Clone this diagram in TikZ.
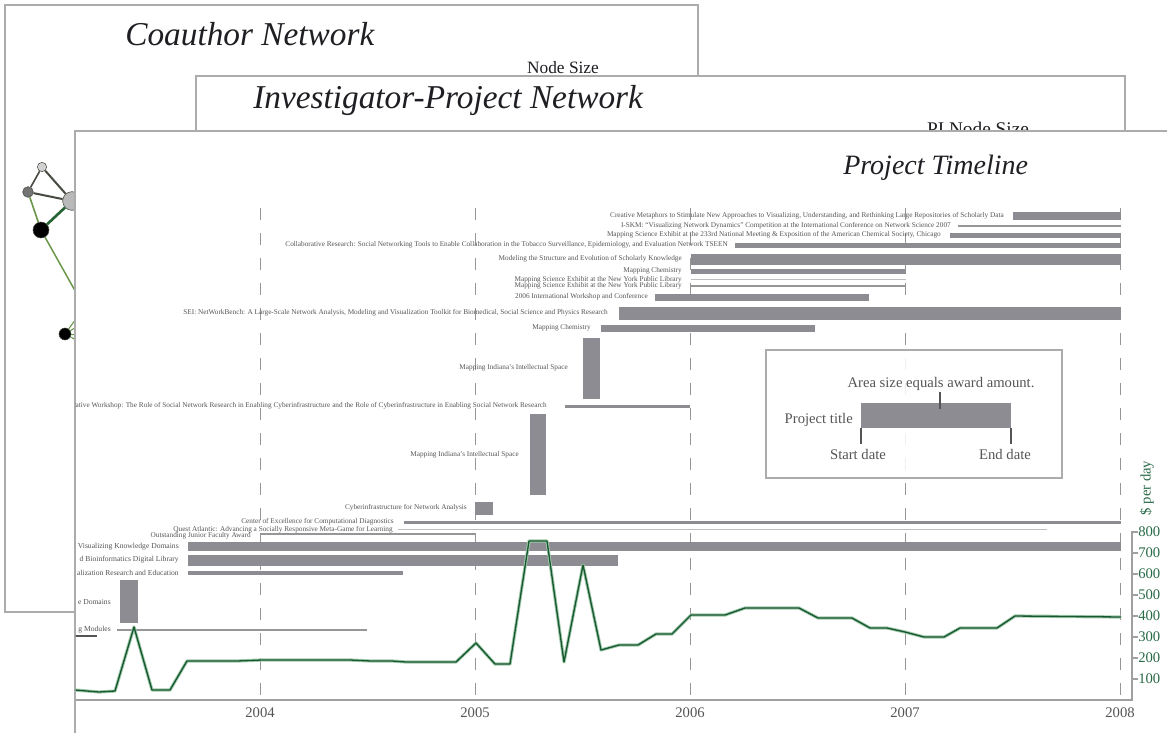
\documentclass[tikz,border=0pt]{standalone}
\usepackage{fontspec}
\setmainfont{Liberation Serif}
\usepackage{xcolor}
\usepackage{tikz}

\definecolor{framegray}{RGB}{172,172,172}
\definecolor{bargray}{RGB}{140,140,146}
\definecolor{linegray}{RGB}{150,150,150}
\definecolor{lightline}{RGB}{190,190,190}
\definecolor{gridgray}{RGB}{150,150,150}
\definecolor{axisgray}{RGB}{160,160,160}
\definecolor{textgray}{RGB}{85,85,85}
\definecolor{titleblack}{RGB}{30,30,35}
\definecolor{curvegreen}{RGB}{22,88,48}
\definecolor{halogreen}{RGB}{160,200,170}
\definecolor{axisgreen}{RGB}{40,105,70}
\definecolor{edgegreen}{RGB}{105,150,70}
\definecolor{edgedark}{RGB}{70,75,65}

\begin{document}
\begin{tikzpicture}[x=0.75pt, y=-0.75pt,
    panel/.style={draw=framegray, fill=white, line width=0.8pt},
    title/.style={anchor=base west, inner sep=0, text=titleblack, font=\itshape\fontsize{25}{30}\selectfont},
    keytext/.style={anchor=base, inner sep=0, text=titleblack},
    lbl/.style={anchor=east, inner sep=0, text=textgray, font=\fontsize{5.45}{6}\selectfont},
    projbar/.style={fill=bargray},
    thinbar/.style={draw=linegray, line width=0.9pt},
    gridline/.style={draw=gridgray, line width=0.7pt, dash pattern=on 9pt off 9.75pt},
    yearlbl/.style={anchor=base, inner sep=0, text=textgray, font=\fontsize{11}{13}\selectfont},
    vlbl/.style={anchor=west, inner sep=0, text=axisgreen, font=\fontsize{11}{13}\selectfont},
    legendtext/.style={inner sep=0, text=textgray, font=\fontsize{11}{13}\selectfont},
    author/.style={circle, inner sep=0, draw=edgedark, line width=0.4pt}]

    \useasboundingbox (0,0) rectangle (1167,732);
    \clip (0,0) rectangle (1167,732);

    % Coauthor Network
    \begin{scope}
        \draw[panel] (5,5) rectangle (698,612);
        \node[title] (coauthor) at (125,45) {Coauthor Network};
        \node[keytext, font=\fontsize{13}{15}\selectfont] (nodesize) at (563,73) {Node Size};

        \node[author, fill=gray!35, minimum size=7pt] (na) at (42,167) {};
        \node[author, fill=gray!110, minimum size=8pt] (nb) at (28,192) {};
        \node[author, fill=gray!55, minimum size=14pt] (nc) at (72,201) {};
        \node[author, fill=black, minimum size=12pt] (nd) at (41,230) {};
        \node[author, fill=black, minimum size=9pt] (ne) at (65,334) {};
        \coordinate (ea) at (78,296);
        \coordinate (eb) at (78,316);
        \coordinate (ec) at (78,326);
        \coordinate (ed) at (78,335);
        \coordinate (ee) at (78,341);

        \draw[edgedark, line width=1.2pt] (na) -- (nb);
        \draw[edgedark, line width=1.5pt] (na) -- (nc);
        \draw[edgedark, line width=1.5pt] (nb) -- (nc);
        \draw[edgegreen, line width=1.2pt] (nb) -- (nd);
        \draw[curvegreen!80!edgegreen, line width=2pt] (nd) -- (nc);
        \draw[edgegreen, line width=1.1pt] (nd) -- (ea);
        \draw[edgegreen, line width=0.8pt] (ne) -- (eb);
        \draw[edgegreen, line width=0.8pt] (ne) -- (ec);
        \draw[edgegreen, line width=0.8pt] (ne) -- (ed);
        \draw[edgegreen, line width=0.8pt] (ne) -- (ee);
    \end{scope}

    % Investigator-Project Network
    \begin{scope}
        \draw[panel] (196,76) rectangle (1125,200);
        \node[title] (invproject) at (253,108) {Investigator-Project Network};
        \node[keytext, font=\fontsize{14.5}{16}\selectfont] (pinodesize) at (978,135) {PI Node Size};
    \end{scope}

    % Project Timeline
    \draw[panel] (75,131) rectangle (1200,780);
    \node[title, font=\itshape\fontsize{21}{25}\selectfont] (timeline) at (843,174) {Project Timeline};

    \begin{scope}
        \clip (75.6,131.6) rectangle (1167,732);

        \draw[gridline] (260,208) -- (260,700);
        \draw[gridline] (475,208) -- (475,700);
        \draw[gridline] (690,208) -- (690,700);
        \draw[gridline] (905,208) -- (905,700);
        \draw[gridline] (1120,208) -- (1120,700);

        \fill[projbar] (1013,212) rectangle (1121,220);
        \node[lbl] (creative) at (1004,216) {Creative Metaphors to Stimulate New Approaches to Visualizing, Understanding, and Rethinking Large Repositories of Scholarly Data};
        \draw[thinbar] (958,226) -- (1121,226);
        \node[lbl] (iskm) at (951,226) {I-SKM: ``Visualizing Network Dynamics'' Competition at the International Conference on Network Science 2007};
        \fill[projbar] (950,232.5) rectangle (1121,237.5);
        \node[lbl] (acs) at (941,235) {Mapping Science Exhibit at the 233rd National Meeting \& Exposition of the American Chemical Society, Chicago};
        \fill[projbar] (735,243) rectangle (1121,247.5);
        \node[lbl] (tseen) at (728,245) {Collaborative Research: Social Networking Tools to Enable Collaboration in the Tobacco Surveillance, Epidemiology, and Evaluation Network TSEEN};
        \fill[projbar] (691,254) rectangle (1121,264.5);
        \node[lbl] (modeling) at (682,259) {Modeling the Structure and Evolution of Scholarly Knowledge};
        \fill[projbar] (691,269) rectangle (906,273.5);
        \node[lbl] (chemone) at (682,271) {Mapping Chemistry};
        \draw[thinbar, draw=lightline] (691,279.5) -- (906,279.5);
        \node[lbl] (nyplone) at (682,279.5) {Mapping Science Exhibit at the New York Public Library};
        \draw[thinbar] (691,286) -- (906,286);
        \node[lbl] (nypltwo) at (682,286) {Mapping Science Exhibit at the New York Public Library};
        \fill[projbar] (655,293.5) rectangle (869,300.5);
        \node[lbl] (workshop) at (648,297) {2006 International Workshop and Conference};
        \fill[projbar] (619,306.5) rectangle (1121,319.5);
        \node[lbl] (nwb) at (608,313) {SEI: NetWorkBench: A Large-Scale Network Analysis, Modeling and Visualization Toolkit for Biomedical, Social Science and Physics Research};
        \fill[projbar] (601,325) rectangle (815,331.5);
        \node[lbl] (chemtwo) at (591,328) {Mapping Chemistry};
        \fill[projbar] (583,338) rectangle (600,399);
        \node[lbl] (indianaone) at (568,368) {Mapping Indiana's Intellectual Space};
        \fill[projbar] (565,404.5) rectangle (690,407.5);
        \node[lbl] (cyberws) at (547,406) {orative Workshop: The Role of Social Network Research in Enabling Cyberinfrastructure and the Role of Cyberinfrastructure in Enabling Social Network Research};
        \fill[projbar] (530,414) rectangle (546,495);
        \node[lbl] (indianatwo) at (519,455) {Mapping Indiana's Intellectual Space};
        \fill[projbar] (475,502) rectangle (493,515);
        \node[lbl] (cyberna) at (467,508) {Cyberinfrastructure for Network Analysis};
        \fill[projbar] (404,520.5) rectangle (1121,523.5);
        \node[lbl] (diagnostics) at (394,522) {Center of Excellence for Computational Diagnostics};
        \draw[thinbar, draw=lightline] (398,529.5) -- (1047,529.5);
        \node[lbl] (quest) at (393,529.5) {Quest Atlantic: Advancing a Socially Responsive Meta-Game for Learning};
        \draw[thinbar] (260,534) -- (475,534);
        \node[lbl] (junior) at (251,535.5) {Outstanding Junior Faculty Award};
        \fill[projbar] (188,542) rectangle (1121,551);
        \node[lbl, font=\fontsize{5.7}{6}\selectfont] (domains) at (179,546.5) {Visualizing Knowledge Domains};
        \fill[projbar] (188,554.5) rectangle (618,565.5);
        \node[lbl, font=\fontsize{5.7}{6}\selectfont] (library) at (179,560) {d Bioinformatics Digital Library};
        \fill[projbar] (188,570.5) rectangle (403,574.5);
        \node[lbl, font=\fontsize{5.7}{6}\selectfont] (education) at (179,572.5) {alization Research and Education};
        \fill[projbar] (120,580) rectangle (138,623);
        \node[lbl, font=\fontsize{5.7}{6}\selectfont] (edomains) at (111,602) {e Domains};
        \draw[thinbar] (117,630) -- (367,630);
        \node[lbl, font=\fontsize{5.7}{6}\selectfont] (modules) at (111,630) {g Modules};
        \draw[textgray, line width=1.2pt] (75,636) -- (97,636);

        % legend
        \draw[framegray, fill=white, fill opacity=0.85, line width=0.8pt] (766,350) rectangle (1062,478);
        \fill[projbar] (861,403) rectangle (1011,428);
        \node[legendtext, anchor=base] (area) at (941,387) {Area size equals award amount.};
        \node[legendtext, anchor=base east] (ptitle) at (853,423) {Project title};
        \node[legendtext, anchor=base] (start) at (858,459) {Start date};
        \node[legendtext, anchor=base] (end) at (1005,459) {End date};
        \draw[textgray, line width=1pt] (940,392) -- (940,409);
        \draw[textgray, line width=1.2pt] (861,428) -- (861,444);
        \draw[textgray, line width=1.2pt] (1011,428) -- (1011,444);

        % axes
        \draw[axisgray, line width=2.2pt] (75,700) -- (1132,700) -- (1132,531);
        \draw[axisgray, line width=1.2pt] (1132,532) -- ++(6,0) (1132,553) -- ++(6,0)
            (1132,574) -- ++(6,0) (1132,595) -- ++(6,0) (1132,616) -- ++(6,0)
            (1132,637) -- ++(6,0) (1132,658) -- ++(6,0) (1132,679) -- ++(6,0);
        \node[vlbl] (v800) at (1138,532) {800};
        \node[vlbl] (v700) at (1138,553) {700};
        \node[vlbl] (v600) at (1138,574) {600};
        \node[vlbl] (v500) at (1138,595) {500};
        \node[vlbl] (v400) at (1138,616) {400};
        \node[vlbl] (v300) at (1138,637) {300};
        \node[vlbl] (v200) at (1138,658) {200};
        \node[vlbl] (v100) at (1138,679) {100};
        \node[vlbl, anchor=center, rotate=90] (perday) at (1147,488) {\$ per day};

        \node[yearlbl] (y2004) at (260,717) {2004};
        \node[yearlbl] (y2005) at (475,717) {2005};
        \node[yearlbl] (y2006) at (690,717) {2006};
        \node[yearlbl] (y2007) at (905,717) {2007};
        \node[yearlbl] (y2008) at (1120,717) {2008};

        % dollars per day
        \def\perday{(75,690) -- (99,692) -- (115,691) -- (134,627) -- (152,690) -- (170,690)
            -- (187,661) -- (237,661) -- (262,660) -- (350,660) -- (371,661) -- (392,661)
            -- (406,662) -- (456,662) -- (476,643) -- (495,664) -- (510,664) -- (529,541)
            -- (547,541) -- (564,662) -- (583,565) -- (601,650) -- (619,645) -- (638,645)
            -- (656,634) -- (672,634) -- (691,615) -- (725,615) -- (745,608) -- (799,608)
            -- (818,618) -- (852,618) -- (870,628) -- (887,628) -- (905,632) -- (924,637)
            -- (944,637) -- (960,628) -- (997,628) -- (1015,616) -- (1121,617)}
        \draw[halogreen, line width=2.4pt, line join=round] \perday;
        \draw[curvegreen, line width=1pt, line join=round] \perday;
    \end{scope}
\end{tikzpicture}
\end{document}
